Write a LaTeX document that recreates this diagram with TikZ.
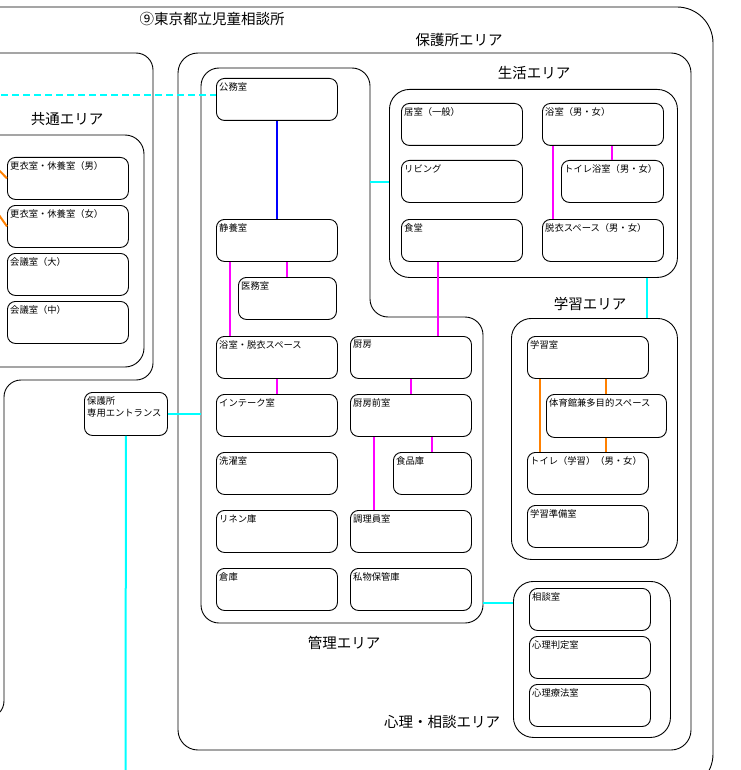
\documentclass[tikz,border=0pt]{standalone}
\usepackage{fontspec}
\setmainfont{Noto Sans CJK JP}
\usetikzlibrary{positioning}
\definecolor{linkcyan}{RGB}{0,255,255}
\definecolor{linkmagenta}{RGB}{255,0,255}
\definecolor{linkorange}{RGB}{255,128,0}
\definecolor{linkblue}{RGB}{0,0,255}
\tikzset{%
	every room/.style={
		draw,
		rounded corners=8pt,
		line width=0.9pt,
		minimum width=121pt,
		minimum height=42pt,
		inner sep=0pt,
		anchor=north west
	},
	room text/.style={
		anchor=north west,
		inner xsep=3pt,
		inner ysep=4pt,
		font=\fontsize{9.3}{12}\selectfont
	},
	area/.style={
		draw,
		line width=0.9pt,
		rounded corners=20pt
	},
	area box/.style={
		area,
		inner sep=0pt,
		anchor=north west
	},
	area name/.style={
		font=\fontsize{14.5}{16}\selectfont
	},
	link/.style={
		line width=2pt
	},
}
\begin{document}
\begin{tikzpicture}[x=1pt, y=-1pt]
	\path[use as bounding box] (0,0) rectangle (740,770);
	\clip (0,0) rectangle (740,770);

	\draw[area, rounded corners=36pt] (-40,7) rectangle (713,790);
	\node[area name] (title) at (212,19) {⑨東京都立児童相談所};

	\draw[area, rounded corners=17pt] (-40,53) -- (153,53) -- (153,380) -- (4,380) -- (4,718) -- (-40,718) -- cycle;
	\draw[area, rounded corners=19pt] (-40,135) rectangle (144,367);
	\node[area name] (kyotsu-name) at (67,119) {共通エリア};

	\foreach \txt [count=\i] in {更衣室・休養室（男）, 更衣室・休養室（女）, 会議室（大）, 会議室（中）}
	\node[every room/.try, label={[room text]north west:\txt}] (kyotsu-\i) at (7,109+48*\i) {};

	\node[every room/.try, minimum width=83pt, minimum height=43pt,
		label={[room text, align=left]north west:保護所\\専用エントランス}] (entrance) at (84,392) {};

	\draw[area] (178,53) rectangle (691,750);
	\node[area name] (hogo-name) at (459,40) {保護所エリア};

	\draw[area, rounded corners=18pt] (201,68) -- (370,68) -- (370,317) -- (483,317) -- (483,623) -- (201,623) -- cycle;
	\node[area name] (kanri-name) at (344,643) {管理エリア};
	\coordinate (kanri-e1) at (370,182);
	\coordinate (kanri-w) at (201,416);
	\coordinate (kanri-e2) at (483,603);

	\node[every room/.try, label={[room text]north west:公務室}] (komu) at (216,78) {};
	\node[every room/.try, label={[room text]north west:静養室}] (seiyo) at (216,219) {};
	\node[every room/.try, minimum width=98pt, label={[room text]north west:医務室}] (imu) at (238,277) {};
	\foreach \m/\txt [count=\i from 0] in {yokudatsu/浴室・脱衣スペース, intake/インテーク室, sentaku/洗濯室, linen/リネン庫, soko/倉庫}
	\node[every room/.try, label={[room text]north west:\txt}] (\m) at (216,336+58*\i) {};
	\foreach \m/\txt/\y in {chubo/厨房/336, zenshitsu/厨房前室/394, choriin/調理員室/510, shibutsu/私物保管庫/568}
	\node[every room/.try, label={[room text]north west:\txt}] (\m) at (350,\y) {};
	\node[every room/.try, minimum width=78pt, label={[room text]north west:食品庫}] (shokuhin) at (393,452) {};

	\node[area box, minimum width=288pt, minimum height=188pt] (seikatsu) at (389,89) {};
	\node[area name] (seikatsu-name) at (534,73) {生活エリア};
	\foreach \m/\txt/\y in {kyoshitsu/居室（一般）/103, living/リビング/160, shokudo/食堂/219}
	\node[every room/.try, label={[room text]north west:\txt}] (\m) at (401,\y) {};
	\node[every room/.try, label={[room text]north west:浴室（男・女）}] (yokushitsu) at (542,103) {};
	\node[every room/.try, minimum width=102pt, label={[room text]north west:トイレ浴室（男・女）}] (toiletbath) at (561,160) {};
	\node[every room/.try, label={[room text]north west:脱衣スペース（男・女）}] (datsui) at (542,219) {};

	\node[area box, minimum width=166pt, minimum height=241pt] (gakushu) at (511,318) {};
	\node[area name] (gakushu-name) at (590,304) {学習エリア};
	\node[every room/.try, label={[room text]north west:学習室}] (gakushushitsu) at (527,336) {};
	\node[every room/.try, minimum width=120pt, minimum height=43pt, label={[room text]north west:体育館兼多目的スペース}] (taiiku) at (546,394) {};
	\node[every room/.try, label={[room text]north west:トイレ（学習）（男・女）}] (toilet) at (527,452) {};
	\node[every room/.try, label={[room text]north west:学習準備室}] (junbi) at (527,505) {};

	\node[area box, minimum width=157pt, minimum height=156pt] (shinri) at (513,581) {};
	\node[area name] (shinri-name) at (442,722) {心理・相談エリア};
	\foreach \m/\txt [count=\i from 0] in {sodan/相談室, hantei/心理判定室, ryoho/心理療法室}
	\node[every room/.try, label={[room text]north west:\txt}] (\m) at (529,588+48*\i) {};

	\coordinate (dash-end) at (-10,95);
	\draw[link, linkcyan, dash pattern=on 7pt off 4pt] (dash-end) -- (dash-end -| komu.west);
	\coordinate (or-1) at (-6,165);
	\coordinate (or-2) at (-6,208);
	\draw[link, linkorange] (or-1) -- (kyotsu-1.west);
	\draw[link, linkorange] (or-2) -- (kyotsu-2.west);

	\coordinate (gate) at (125.5,775);
	\draw[link, linkcyan] (entrance.south) -- (gate);
	\draw[link, linkcyan] (entrance.east) -- (entrance.east -| kanri-w);
	\draw[link, linkcyan] (kanri-e1) -- (kanri-e1 -| seikatsu.west);
	\draw[link, linkcyan] (kanri-e2) -- (kanri-e2 -| shinri.west);
	\draw[link, linkcyan] ([xshift=-31pt]seikatsu.south east) -- ([xshift=-31pt]seikatsu.south east |- gakushu.north);

	\draw[link, linkblue] (komu.south) -- (seiyo.north);
	\draw[link, linkmagenta] ([xshift=14pt]seiyo.south west) -- ([xshift=14pt]yokudatsu.north west);
	\draw[link, linkmagenta] (seiyo.south -| imu.north) -- (imu.north);
	\draw[link, linkmagenta] (yokudatsu.south) -- (intake.north);
	\draw[link, linkmagenta] ([xshift=37pt]shokudo.south west) -- ([xshift=37pt]shokudo.south west |- chubo.north);
	\draw[link, linkmagenta] ([xshift=11pt]yokushitsu.south west) -- ([xshift=11pt]datsui.north west);
	\draw[link, linkmagenta] (yokushitsu.south -| toiletbath.north) -- (toiletbath.north);
	\draw[link, linkmagenta] (chubo.south) -- (zenshitsu.north);
	\draw[link, linkmagenta] ([xshift=24pt]zenshitsu.south west) -- ([xshift=24pt]choriin.north west);
	\draw[link, linkmagenta] (zenshitsu.south -| shokuhin.north) -- (shokuhin.north);

	\draw[link, linkorange] ([xshift=13pt]gakushushitsu.south west) -- ([xshift=13pt]toilet.north west);
	\draw[link, linkorange] (gakushushitsu.south -| taiiku.north) -- (taiiku.north);
	\draw[link, linkorange] (taiiku.south) -- (taiiku.south |- toilet.north);

\end{tikzpicture}
\end{document}
